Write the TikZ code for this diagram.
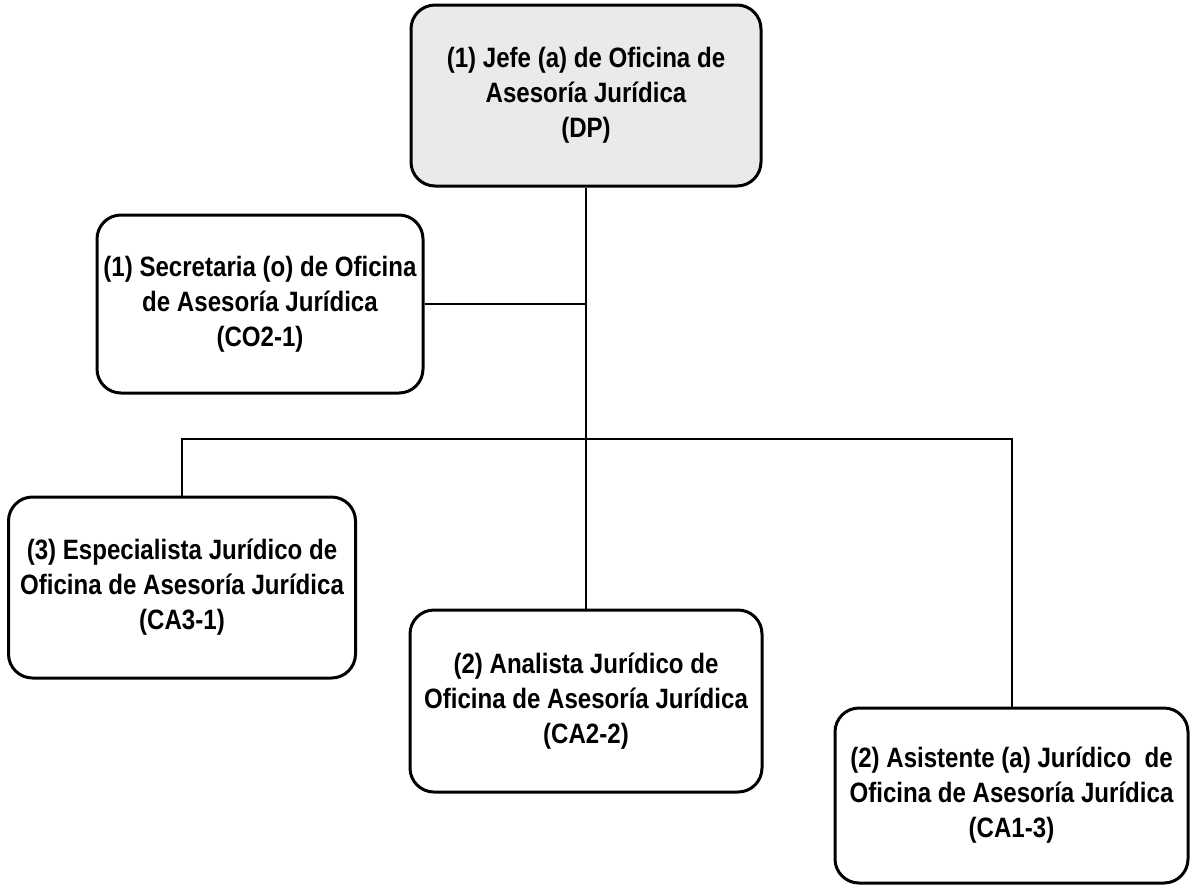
\documentclass[tikz,border=0pt]{standalone}
\usepackage{fontspec}
\setmainfont{Liberation Sans}[FakeStretch=0.86]
\definecolor{grisjefe}{RGB}{234,234,234}
\tikzset{
  cargo/.style={draw, line width=1.5pt, rounded corners=12pt, align=center, inner sep=0pt,
    font=\fontsize{14}{17.5}\selectfont\bfseries},
  linea/.style={line width=1pt}
}
\begin{document}
\begin{tikzpicture}[x=0.5pt,y=-0.5pt]
  \useasboundingbox (0,0) rectangle (1190,885);
  \node[cargo, fill=grisjefe, minimum width=175pt, minimum height=90.5pt] (jefe) at (586,95.5) {(1) Jefe (a) de Oficina de\\ Asesoría Jurídica\\ (DP)};
  \node[cargo, minimum width=163pt, minimum height=89pt] (secre) at (260,304) {(1) Secretaria (o) de Oficina\\ de Asesoría Jurídica\\ (CO2-1)};
  \node[cargo, minimum width=173.5pt, minimum height=90.5pt] (espec) at (182,587.5) {(3) Especialista Jurídico de\\ Oficina de Asesoría Jurídica\\ (CA3-1)};
  \node[cargo, minimum width=176pt, minimum height=91pt] (anal) at (586,701) {(2) Analista Jurídico de\\ Oficina de Asesoría Jurídica\\ (CA2-2)};
  \node[cargo, minimum width=176.5pt, minimum height=87.5pt] (asist) at (1011.5,795.5) {(2) Asistente (a) Jurídico~~de\\ Oficina de Asesoría Jurídica\\ (CA1-3)};
  \coordinate (bus) at (586,439);

  \draw[linea] (jefe) -- (anal);
  \draw[linea] (secre) -- (secre -| jefe.south);
  \draw[linea] (espec) |- (bus) -| (asist);
\end{tikzpicture}
\end{document}
